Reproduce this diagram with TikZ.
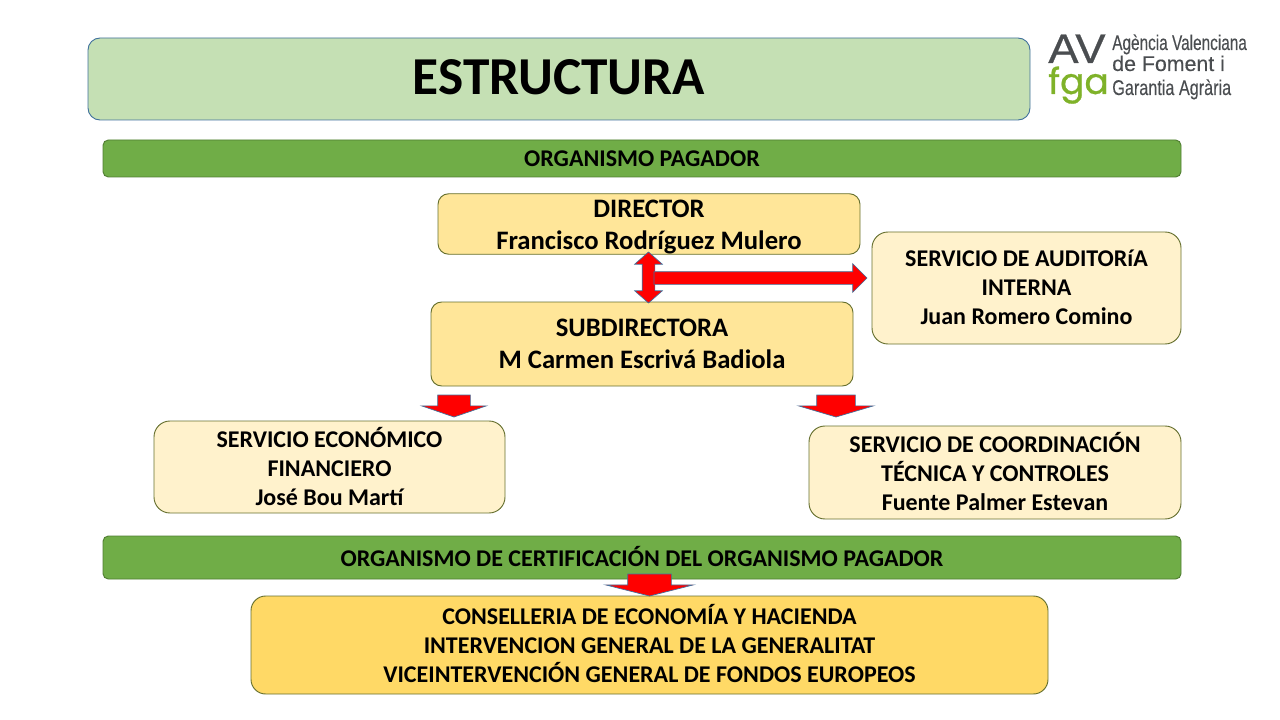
\documentclass[tikz,border=0pt]{standalone}
\usepackage{fontspec}
\setmainfont{Carlito}
\newfontfamily\logofont[FakeStretch=0.72,FakeBold=0.25]{Liberation Sans}
\newfontfamily\logomid[FakeStretch=1.0,FakeBold=0.25]{Liberation Sans}
\newfontfamily\logolow[FakeStretch=0.76,FakeBold=0.25]{Liberation Sans}
\newfontfamily\logoav[FakeStretch=1.1,FakeBold=0.6]{Liberation Sans}
\newfontfamily\logofga[FakeBold=0.8]{Poppins}
\usetikzlibrary{shapes.arrows}

\definecolor{titlefill}{HTML}{C5E0B4}
\definecolor{barfill}{HTML}{70AD47}
\definecolor{barline}{HTML}{507E32}
\definecolor{headfill}{HTML}{FFE699}
\definecolor{servfill}{HTML}{FFF2CC}
\definecolor{certfill}{HTML}{FFD966}
\definecolor{boxline}{HTML}{66702F}
\definecolor{titleline}{HTML}{41719C}
\definecolor{blueline}{HTML}{41719C}
\definecolor{logogrey}{HTML}{4A4D50}
\definecolor{logogreen}{HTML}{7FB229}

% invisible depth below a last line, lifts a centred block
\newcommand{\liftby}[1]{\rule[-#1]{0pt}{#1}}

\tikzset{
    sized/.style 2 args={minimum width=#1*0.75pt, minimum height=#2*0.75pt, inner sep=0pt, outer sep=0pt},
    titlebox/.style={draw=titleline, line width=0.7pt, fill=titlefill, rounded corners=9pt, font=\fontsize{40}{48}\selectfont\bfseries},
    barbox/.style={draw=barline, line width=0.7pt, fill=barfill, rounded corners=4pt, font=\fontsize{18}{22}\selectfont\bfseries},
    headbox/.style={draw=boxline, line width=0.7pt, fill=headfill, rounded corners=8pt, align=center, font=\fontsize{20}{24}\selectfont\bfseries},
    servbox/.style={draw=boxline, line width=0.7pt, fill=servfill, rounded corners=12pt, align=center, font=\fontsize{18}{21.75}\selectfont\bfseries},
    certbox/.style={draw=boxline, line width=0.7pt, fill=certfill, rounded corners=11pt, align=center, font=\fontsize{18}{21.75}\selectfont\bfseries},
    redarrow/.style={draw=blueline, fill=red, line width=0.5pt, inner xsep=0pt, outer sep=0pt},
    % length, head width, shaft width
    blockdown/.style n args={3}{single arrow, redarrow, anchor=tail, rotate=-90, inner ysep=#3/2*0.75pt,
        single arrow head indent=0pt, minimum height=#1*0.75pt,
        single arrow head extend=(#2-#3)/2*0.75pt, single arrow tip angle={2*atan((#2/2)/11)}},
    logotext/.style={anchor=base west, inner sep=0pt, text=logogrey, font=\logofont\fontsize{16}{16}\selectfont}
}

\begin{document}
\begin{tikzpicture}[x=0.75pt, y=-0.75pt]
    \useasboundingbox (0,0) rectangle (1280,720);

    % Title and logo
    \node[titlebox, sized={942}{82}] (title) at (559,79) {\raisebox{2.5pt}{ESTRUCTURA}};
    \node[anchor=base west, inner sep=0pt, text=logogrey, font=\logoav\fontsize{31}{31}\selectfont] (logoav) at (1048,63) {AV};
    \node[anchor=base west, inner sep=0pt, text=logogreen, font=\logofga\fontsize{27}{27}\selectfont] (logofga) at (1048,94) {fga};
    \node[logotext] (logoa) at (1112,50) {Agència Valenciana};
    \node[logotext, font=\logomid\fontsize{16}{16}\selectfont] (logob) at (1112,71) {de Foment i};
    \node[logotext, font=\logolow\fontsize{16}{16}\selectfont] (logoc) at (1112,95) {Garantia Agrària};

    % Paying agency
    \node[barbox, sized={1078}{37}] (pagador) at (642,158.5) {ORGANISMO PAGADOR};
    \node[headbox, sized={422}{60}] (director) at (649,224) {\rule{0pt}{18pt}DIRECTOR\\Francisco Rodríguez Mulero};
    \node[headbox, sized={422}{84}] (subdir) at (642,344) {SUBDIRECTORA\\M Carmen Escrivá Badiola};
    \node[servbox, sized={309}{112}] (auditoria) at (1026.5,288) {SERVICIO DE AUDITORíA\\INTERNA\\Juan Romero Comino\liftby{1.5pt}};

    % Services below
    \node[servbox, sized={351}{92}] (economico) at (329.5,467) {SERVICIO ECONÓMICO\\FINANCIERO\\José Bou Martí\liftby{1.5pt}};
    \node[servbox, sized={372}{93}] (coordina) at (995,472.5) {SERVICIO DE COORDINACIÓN\\TÉCNICA Y CONTROLES\\Fuente Palmer Estevan\liftby{2.2pt}};

    % Certification body
    \node[barbox, sized={1078}{43}] (certifica) at (642,557.5) {ORGANISMO DE CERTIFICACIÓN DEL ORGANISMO PAGADOR\liftby{1.5pt}};
    \node[certbox, sized={797}{98}] (conselleria) at (649.5,645) {CONSELLERIA DE ECONOMÍA Y HACIENDA\\INTERVENCION GENERAL DE LA GENERALITAT\\VICEINTERVENCIÓN GENERAL DE FONDOS EUROPEOS\liftby{3pt}};

    % Block arrows
    \node[double arrow, redarrow, rotate=90, anchor=tip 2, inner ysep=6*0.75pt,
        minimum height=51*0.75pt, double arrow head extend=7.5*0.75pt,
        double arrow head indent=0pt, double arrow tip angle=97] (arrowsub) at (648.5,303) {};
    \node[single arrow, redarrow, anchor=tail, inner ysep=6*0.75pt,
        minimum height=213*0.75pt, single arrow head extend=8*0.75pt,
        single arrow head indent=0pt, single arrow tip angle=90] (arrowaudit) at (654,278) {};
    \node[blockdown={22}{64}{32}] (arrowecon) at (454,395) {};
    \node[blockdown={22}{74}{38}] (arrowcoord) at (836,395) {};
    \node[blockdown={22}{87}{43}] (arrowcert) at (649.5,574) {};
\end{tikzpicture}
\end{document}
